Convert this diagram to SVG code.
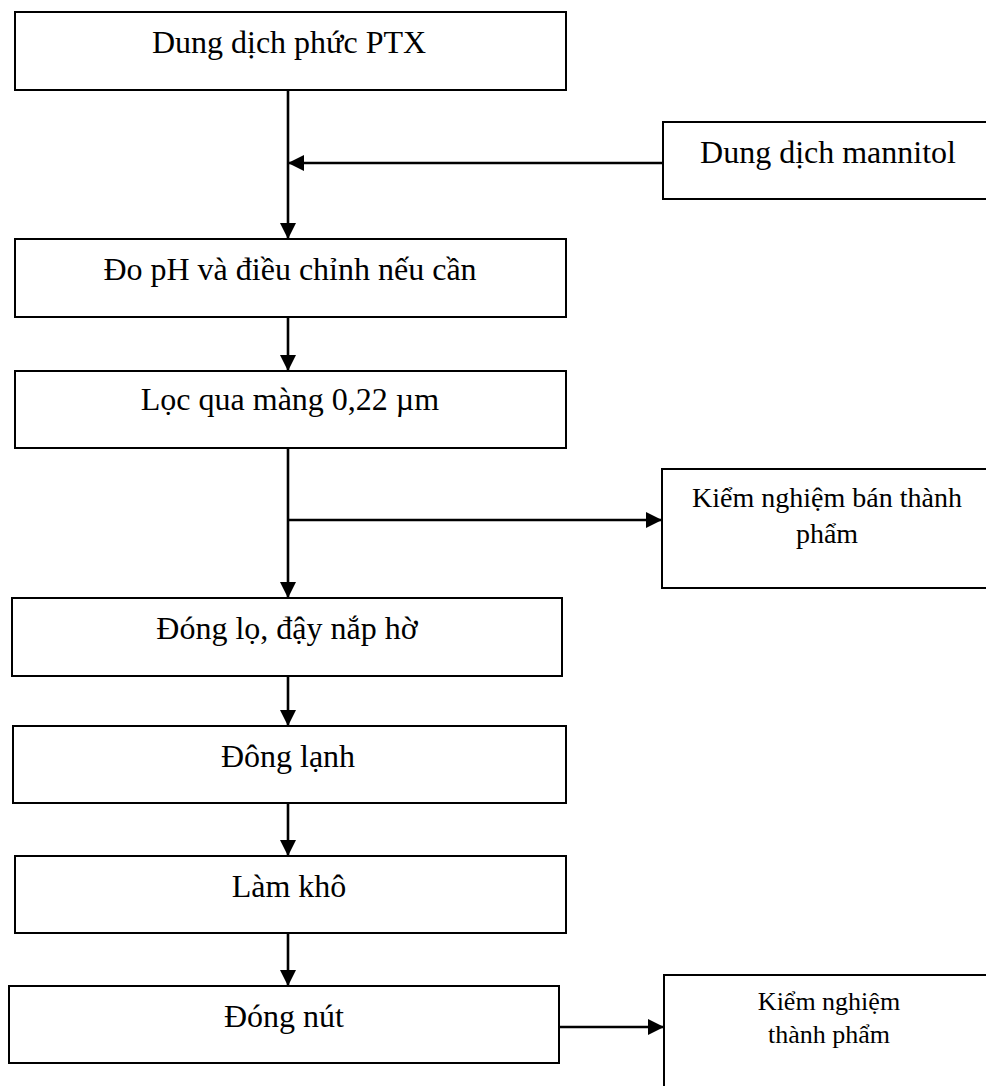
<svg xmlns="http://www.w3.org/2000/svg" width="986" height="1086" viewBox="0 0 986 1086">
<style>
.box{fill:#fff;stroke:#000;stroke-width:2}
.t{font-family:"Liberation Serif","Times New Roman",serif;font-size:32px;fill:#000;text-anchor:middle}
.s{font-size:28px}
.xs{font-size:26px}
.ln{stroke:#000;stroke-width:2.6;fill:none}
</style>
<defs>
<marker id="ah" markerUnits="userSpaceOnUse" markerWidth="18" markerHeight="16" refX="16" refY="8" orient="auto">
<path d="M0,0 L16,8 L0,16 Z" fill="#000"/>
</marker>
</defs>
<rect width="986" height="1086" fill="#fff"/>
<g id="connectors">
<line class="ln" x1="288" y1="90" x2="288" y2="239" marker-end="url(#ah)"/>
<line class="ln" x1="663" y1="163" x2="288" y2="163" marker-end="url(#ah)"/>
<line class="ln" x1="288" y1="317" x2="288" y2="371" marker-end="url(#ah)"/>
<line class="ln" x1="288" y1="448" x2="288" y2="598" marker-end="url(#ah)"/>
<line class="ln" x1="288" y1="520" x2="662" y2="520" marker-end="url(#ah)"/>
<line class="ln" x1="288" y1="676" x2="288" y2="726" marker-end="url(#ah)"/>
<line class="ln" x1="288" y1="803" x2="288" y2="856" marker-end="url(#ah)"/>
<line class="ln" x1="288" y1="933" x2="288" y2="986" marker-end="url(#ah)"/>
<line class="ln" x1="559" y1="1027" x2="664" y2="1027" marker-end="url(#ah)"/>
</g>
<g id="n1"><rect class="box" x="15" y="12" width="551" height="78"/><text class="t" x="289" y="53">Dung dịch phức PTX</text></g>
<g id="n2"><rect class="box" x="663" y="122" width="330" height="77"/><text class="t" x="828" y="163">Dung dịch mannitol</text></g>
<g id="n3"><rect class="box" x="15" y="239" width="551" height="78"/><text class="t" x="290" y="280">Đo pH và điều chỉnh nếu cần</text></g>
<g id="n4"><rect class="box" x="15" y="371" width="551" height="77"/><text class="t" x="290" y="410">Lọc qua màng 0,22 µm</text></g>
<g id="n5"><rect class="box" x="662" y="469" width="330" height="119"/><text class="t s" x="827" y="507">Kiểm nghiệm bán thành</text><text class="t s" x="827" y="543">phẩm</text></g>
<g id="n6"><rect class="box" x="12" y="598" width="550" height="78"/><text class="t" x="287" y="639">Đóng lọ, đậy nắp hờ</text></g>
<g id="n7"><rect class="box" x="13" y="726" width="553" height="77"/><text class="t" x="288" y="767">Đông lạnh</text></g>
<g id="n8"><rect class="box" x="15" y="856" width="551" height="77"/><text class="t" x="289" y="897">Làm khô</text></g>
<g id="n9"><rect class="box" x="9" y="986" width="550" height="77"/><text class="t" x="284" y="1027">Đóng nút</text></g>
<g id="n10"><rect class="box" x="664" y="975" width="330" height="130"/><text class="t xs" x="829" y="1010">Kiểm nghiệm</text><text class="t xs" x="829" y="1043">thành phẩm</text></g>
</svg>
